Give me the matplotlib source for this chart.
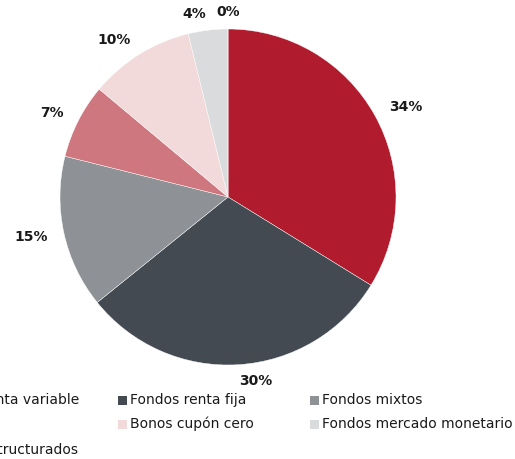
import matplotlib.pyplot as plt
from matplotlib.patches import Rectangle

# shares per product type
categories = ["Fondos renta variable", "Fondos renta fija", "Fondos mixtos", "Acciones",
              "Bonos cupón cero", "Fondos mercado monetario", "Fondos estructurados"]
shares = [33.8, 30.4, 14.7, 7.2, 10.1, 3.8, 0.0]
colors = ["#B01C2E", "#434A52", "#8E9196", "#CF777F", "#F2DADB", "#DADBDD", "#7A0F1C"]

W, H = 515, 459
fig = plt.figure(figsize=(W / 100, H / 100), dpi=100)

# pie: centre (228,197) px, radius 168 px
cx, cy, r = 228, 197, 168
ax = fig.add_axes([(cx - r) / W, (H - cy - r) / H, 2 * r / W, 2 * r / H])
labels = [f"{v:.0f}%" for v in shares]
wedges, texts = ax.pie(shares, colors=colors, startangle=90, counterclock=False,
                       labels=labels, labeldistance=1.1, radius=1,
                       wedgeprops=dict(edgecolor="white", linewidth=0.3),
                       textprops=dict(fontsize=10, fontweight="bold", color="#1a1a1a"))
texts[-1].set_ha("center")
texts[-1].set_x(0.0)
ax.set_xlim(-1, 1)
ax.set_ylim(-1, 1)
ax.set_aspect("equal")
ax.axis("off")

# legend, three columns filled row by row (first column runs off the left edge)
col_x = [-84, 118, 310]
row_y = [400, 424, 450]
for i, (name, c) in enumerate(zip(categories, colors)):
    x = col_x[i % 3]
    y = row_y[i // 3]
    fig.patches.append(Rectangle(((x) / W, (H - y - 5) / H), 9 / W, 9 / H,
                                 transform=fig.transFigure, facecolor=c, edgecolor="none"))
    fig.text((x + 12) / W, (H - y) / H, name, fontsize=10, color="#1a1a1a",
             ha="left", va="center")

fig.savefig("out.png", dpi=100)
